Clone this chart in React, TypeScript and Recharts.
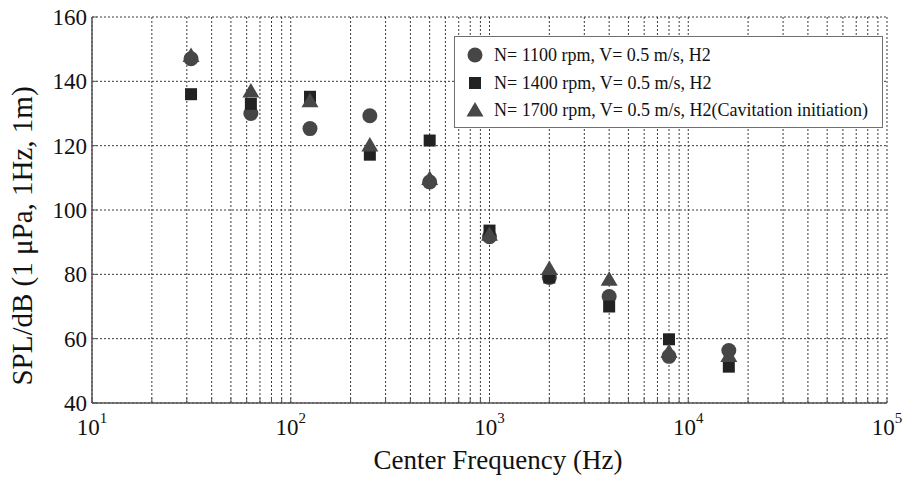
import {
  ScatterChart,
  Scatter,
  XAxis,
  YAxis,
  CartesianGrid,
  Legend,
  Label,
} from "recharts";

// octave band centre frequencies (Hz)
const freqs = [31.5, 63, 125, 250, 500, 1000, 2000, 4000, 8000, 16000];

// SPL values
const spl1100 = [147, 130, 125.3, 129.3, 108.7, 91.7, 79, 73.1, 54.5, 56.3];
const spl1400 = [136, 133, 135.2, 117.2, 121.6, 93.6, 79, 70, 59.8, 51.3];
const spl1700 = [148, 137, 134, 120.2, 109.8, 92.5, 81.8, 78.5, 56, 54.8];

const xTicks = [
  10, 20, 30, 40, 50, 60, 70, 80, 90,
  100, 200, 300, 400, 500, 600, 700, 800, 900,
  1000, 2000, 3000, 4000, 5000, 6000, 7000, 8000, 9000,
  10000, 20000, 30000, 40000, 50000, 60000, 70000, 80000, 90000,
  100000,
];
const xMajor = [10, 100, 1000, 10000, 100000];
const xExponents = ["1", "2", "3", "4", "5"];
const yTicks = [40, 60, 80, 100, 120, 140, 160];

const seriesNames = [
  "N= 1100 rpm, V= 0.5 m/s, H2",
  "N= 1400 rpm, V= 0.5 m/s, H2",
  "N= 1700 rpm, V= 0.5 m/s, H2(Cavitation initiation)",
];

const FONT = '"Liberation Serif", "Times New Roman", serif';
const AXIS_COLOR = "#555";
const CIRCLE_COLOR = "#464646";
const SQUARE_COLOR = "#222222";
const TRIANGLE_COLOR = "#474747";
const TICK_LEN = 5;

const toPoints = (vals: number[]) => freqs.map((f, i) => ({ x: f, y: vals[i] }));

const CircleMark = (props: any) => (
  <circle cx={props.cx} cy={props.cy} r={7.5} fill={CIRCLE_COLOR} />
);
const SquareMark = (props: any) => (
  <rect x={props.cx - 6} y={props.cy - 6} width={12} height={12} fill={SQUARE_COLOR} />
);
const TriangleMark = (props: any) => {
  const { cx, cy } = props;
  return (
    <polygon
      points={`${cx},${cy - 8} ${cx - 8.5},${cy + 6.5} ${cx + 8.5},${cy + 6.5}`}
      fill={TRIANGLE_COLOR}
    />
  );
};

// bottom axis: inward tick + 10^n label on decades
const XTick = (props: any) => {
  const { x, y, payload } = props;
  const idx = xMajor.indexOf(payload.value);
  return (
    <g>
      <line x1={x} y1={y} x2={x} y2={y - TICK_LEN} stroke={AXIS_COLOR} />
      {idx >= 0 && (
        <text x={x} y={y + 32} textAnchor="middle" fontFamily={FONT} fontSize={23} fill="#111">
          <tspan>10</tspan>
          <tspan dy={-12} fontSize={15}>
            {xExponents[idx]}
          </tspan>
        </text>
      )}
    </g>
  );
};

const TopTick = (props: any) => {
  const { x, y } = props;
  return <line x1={x} y1={y} x2={x} y2={y + TICK_LEN} stroke={AXIS_COLOR} />;
};

const YTick = (props: any) => {
  const { x, y, payload } = props;
  return (
    <g>
      <line x1={x} y1={y} x2={x + TICK_LEN} y2={y} stroke={AXIS_COLOR} />
      <text
        x={x - 5}
        y={y}
        dy="0.35em"
        textAnchor="end"
        fontFamily={FONT}
        fontSize={23}
        fill="#111"
      >
        {payload.value}
      </text>
    </g>
  );
};

const RightTick = (props: any) => {
  const { x, y } = props;
  return <line x1={x} y1={y} x2={x - TICK_LEN} y2={y} stroke={AXIS_COLOR} />;
};

const legendMarks = [
  <circle cx={9} cy={9} r={7.5} fill={CIRCLE_COLOR} />,
  <rect x={3} y={3} width={12} height={12} fill={SQUARE_COLOR} />,
  <polygon points="9,1 0.5,15.5 17.5,15.5" fill={TRIANGLE_COLOR} />,
];

const renderLegend = () => (
  <div
    style={{
      position: "relative",
      width: 429,
      height: 92,
      boxSizing: "border-box",
      border: "1.5px solid #707070",
      background: "#fff",
      fontFamily: FONT,
      fontSize: 18,
      color: "#111",
    }}
  >
    {seriesNames.map((name, i) => (
      <div
        key={name}
        style={{
          position: "absolute",
          left: 11,
          top: [18, 46, 73][i] - 12,
          height: 24,
          display: "flex",
          alignItems: "center",
          whiteSpace: "nowrap",
        }}
      >
        <svg width={18} height={18} style={{ marginRight: 10 }}>
          {legendMarks[i]}
        </svg>
        <span>{name}</span>
      </div>
    ))}
  </div>
);

export default function App() {
  return (
    <div style={{ position: "absolute", left: 0, top: 0, background: "#fff" }}>
      <ScatterChart
        width={906}
        height={481}
        margin={{ top: 17, right: 19, bottom: 0, left: 0 }}
      >
        <CartesianGrid stroke="#3a3a3a" strokeDasharray="2 2" strokeWidth={1} />
        <XAxis
          dataKey="x"
          type="number"
          scale="log"
          domain={[10, 100000]}
          ticks={xTicks}
          interval={0}
          allowDataOverflow
          height={78}
          tickSize={0}
          tickMargin={0}
          tickLine={false}
          tick={<XTick />}
          axisLine={{ stroke: AXIS_COLOR, strokeWidth: 1.5 }}
        >
          <Label
            content={() => (
              <text x={498} y={469} textAnchor="middle" fontFamily={FONT} fontSize={27} fill="#111">
                Center Frequency (Hz)
              </text>
            )}
          />
        </XAxis>
        <XAxis
          xAxisId="top"
          orientation="top"
          type="number"
          scale="log"
          domain={[10, 100000]}
          ticks={xTicks}
          interval={0}
          allowDataOverflow
          height={0}
          tickSize={0}
          tickMargin={0}
          tickLine={false}
          tick={<TopTick />}
          axisLine={{ stroke: AXIS_COLOR, strokeWidth: 1.5 }}
        />
        <YAxis
          dataKey="y"
          type="number"
          domain={[40, 160]}
          ticks={yTicks}
          interval={0}
          width={92}
          tickSize={0}
          tickMargin={0}
          tickLine={false}
          axisLine={{ stroke: AXIS_COLOR, strokeWidth: 1.5 }}
          tick={<YTick />}
        >
          <Label
            content={() => (
              <text
                x={32}
                y={236}
                transform="rotate(-90 32 236)"
                textAnchor="middle"
                fontFamily={FONT}
                fontSize={29}
                fill="#111"
              >
                SPL/dB (1 μPa, 1Hz, 1m)
              </text>
            )}
          />
        </YAxis>
        <YAxis
          yAxisId="right"
          orientation="right"
          type="number"
          domain={[40, 160]}
          ticks={yTicks}
          interval={0}
          width={0}
          tickSize={0}
          tickMargin={0}
          tickLine={false}
          tick={<RightTick />}
          axisLine={{ stroke: AXIS_COLOR, strokeWidth: 1.5 }}
        />
        <Legend
          layout="vertical"
          align="center"
          verticalAlign="middle"
          content={renderLegend}
          wrapperStyle={{ left: 454, top: 36, width: 429, height: 92 }}
        />
        <Scatter
          name={seriesNames[0]}
          data={toPoints(spl1100)}
          shape={<CircleMark />}
          isAnimationActive={false}
        />
        <Scatter
          name={seriesNames[1]}
          data={toPoints(spl1400)}
          shape={<SquareMark />}
          isAnimationActive={false}
        />
        <Scatter
          name={seriesNames[2]}
          data={toPoints(spl1700)}
          shape={<TriangleMark />}
          isAnimationActive={false}
        />
      </ScatterChart>
    </div>
  );
}
